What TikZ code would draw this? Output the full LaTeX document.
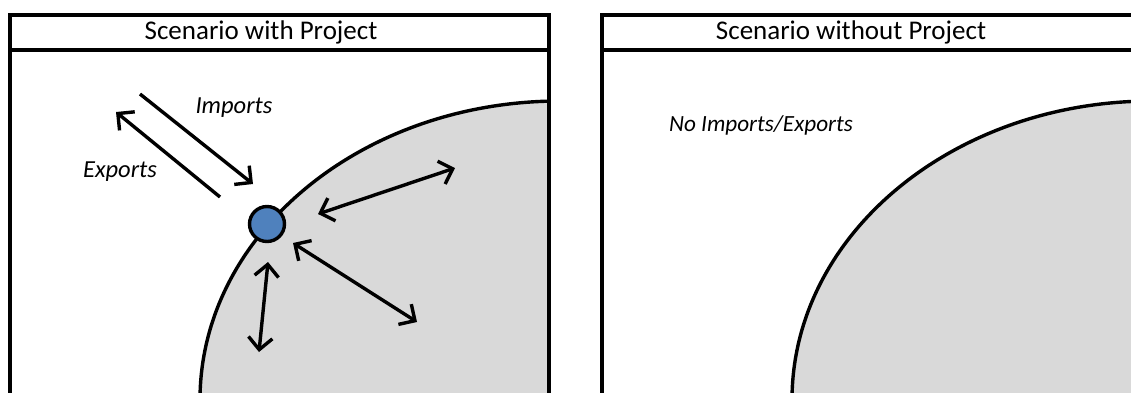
\documentclass[tikz,border=0pt]{standalone}
\usepackage{fontspec}
\setmainfont{Carlito}
\usetikzlibrary{arrows.meta}
\definecolor{landgray}{HTML}{D9D9D9}
\definecolor{hubblue}{HTML}{4F81BD}
\begin{document}
\begin{tikzpicture}[x=1pt,y=-1pt,
  frame/.style={draw=black,line width=3.8pt},
  land/.style={fill=landgray,draw=black,line width=3.4pt},
  barb/.tip={Straight Barb[length=12pt,width=24pt,line width=3.4pt]},
  flow/.style={line width=3.4pt,barb-barb},
  oneway/.style={line width=3.4pt,-barb},
  title/.style={font=\fontsize{27}{31}\selectfont,inner sep=0pt},
  lbl/.style={font=\fontsize{24.5}{28}\selectfont\itshape,inner sep=0pt},
  hub/.style={circle,fill=hubblue,draw=black,line width=3.4pt,minimum size=35pt,inner sep=0pt}]
\useasboundingbox (0,0) rectangle (1131,392);
\fill[white] (0,0) rectangle (1131,392);
% left panel land
\begin{scope}
  \clip (10,50) rectangle (549,400);
  \path[land] (560,400) ellipse [x radius=360pt, y radius=299pt];
\end{scope}
% right panel land
\begin{scope}
  \clip (602,50) rectangle (1142,400);
  \path[land] (1152,400) ellipse [x radius=360pt, y radius=299pt];
\end{scope}
% frames
\draw[frame] (10,400) -- (10,15) -- (549,15) -- (549,400);
\draw[frame] (10,50) -- (549,50);
\draw[frame] (602,400) -- (602,15) -- (1142,15) -- (1142,400);
\draw[frame] (602,50) -- (1142,50);
% titles
\node[title] (t1) at (261,32) {Scenario with Project};
\node[title] (t2) at (851,32) {Scenario without Project};
% hub
\node[hub] (hub) at (267,224) {};
% coordinates
\coordinate (impS) at (140,94);
\coordinate (impE) at (253,184);
\coordinate (expS) at (220,197);
\coordinate (expE) at (116,112);
\coordinate (a1) at (318,214);
\coordinate (b1) at (455,168);
\coordinate (a2) at (293,243);
\coordinate (b2) at (417,322);
\coordinate (a3) at (268,262);
\coordinate (b3) at (259,352);
\draw[oneway] (impS) -- (impE);
\draw[oneway] (expS) -- (expE);
\draw[flow] (a1) -- (b1);
\draw[flow] (a2) -- (b2);
\draw[flow] (a3) -- (b3);
% labels
\node[lbl] (limp) at (234,108) {Imports};
\node[lbl] (lexp) at (120,172) {Exports};
\node[lbl,font=\fontsize{23.2}{27}\selectfont\itshape] (lno) at (761,125) {No Imports/Exports};
\end{tikzpicture}
\end{document}
